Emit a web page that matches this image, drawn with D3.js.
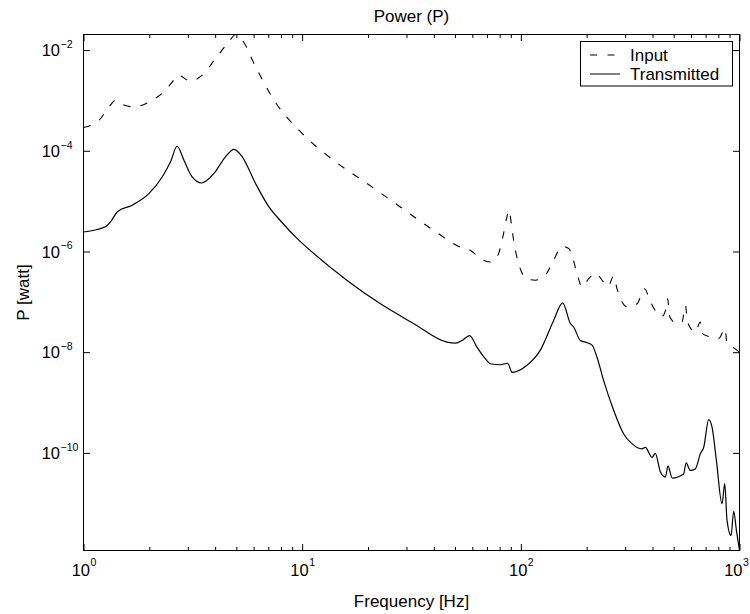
<!DOCTYPE html>
<html><head><meta charset="utf-8">
<script src="https://cdn.jsdelivr.net/npm/d3@7"></script>
<style>
body{margin:0;background:#fff}
text{font-family:"Liberation Sans",Arial,Helvetica,sans-serif;fill:#000}
</style>
</head><body>
<svg id="chart" width="750" height="614"></svg>
<script>
// ---- data ----
const titleText = "Power (P)";
const xLabelText = "Frequency [Hz]";
const yLabelText = "P [watt]";
const seriesNames = ["Input", "Transmitted"];

const inputFreq = [1.00,1.18,1.26,1.33,1.40,1.53,1.70,2.06,2.37,2.55,2.70,3.09,3.49,4.02,4.62,4.96,5.32,6.12,7.50,
  10.0,13.9,19.8,28.1,39.9,54.7,58.7,65.3,72.0,77.8,83.4,86.0,88.3,90.5,92.7,97.7,106.7,116.5,129.5,141.3,154.3,
  165.5,171.5,180.8,190.5,204.3,219.2,239.2,250,265.8,275.4,306,340,368,391,442,460,469,480,518,546,566,578,628,
  662,672,736,803,861,875,930,1000];
const inputPower = [2.90e-4,4.07e-4,5.89e-4,8.13e-4,1.01e-3,8.13e-4,7.46e-4,1.01e-3,1.60e-3,2.34e-3,3.18e-3,2.42e-3,
  3.18e-3,6.84e-3,1.46e-2,2.04e-2,1.58e-2,4.68e-3,9.55e-4,
  2.21e-4,6.50e-5,2.24e-5,7.67e-6,2.63e-6,1.15e-6,1.06e-6,7.24e-7,6.17e-7,7.76e-7,2.29e-6,4.47e-6,6.61e-6,3.55e-6,
  1.66e-6,5.75e-7,2.88e-7,2.69e-7,3.39e-7,6.76e-7,1.26e-6,
  1.15e-6,8.32e-7,3.63e-7,1.97e-7,2.88e-7,3.72e-7,2.45e-7,2.00e-7,3.24e-7,1.82e-7,7.94e-8,9.12e-8,1.82e-7,1.00e-7,
  5.13e-8,7.08e-8,1.15e-7,5.01e-8,3.72e-8,3.98e-8,8.51e-8,3.98e-8,2.51e-8,
  3.98e-8,2.40e-8,2.00e-8,1.86e-8,2.95e-8,1.48e-8,1.26e-8,1.00e-8];

const transFreq = [1.00,1.26,1.33,1.43,1.67,1.99,2.29,2.50,2.68,2.88,3.14,3.47,3.95,4.46,4.88,5.32,6.12,7.05,8.11,
  9.47,11.3,16.0,22.8,32.3,45.9,50.5,53.8,58.3,63.0,68.8,72.5,80.6,87.0,91.2,106.7,122.8,141.3,155.3,168.5,174.4,
  187.2,197,211.7,223,239,266,295,323,358,371,398,412,435,458,471,492,555,570,596,628,662,686,723,749,784,832,
  856,877,915,941,968,1000];
const transPower = [2.44e-6,3.09e-6,3.89e-6,6.17e-6,8.32e-6,1.41e-5,3.02e-5,6.03e-5,1.23e-4,6.46e-5,3.02e-5,2.29e-5,
  3.55e-5,7.59e-5,1.07e-4,7.59e-5,2.24e-5,7.67e-6,3.72e-6,
  1.82e-6,9.12e-7,2.69e-7,9.12e-8,3.72e-8,1.58e-8,1.51e-8,1.70e-8,2.14e-8,1.26e-8,7.41e-9,5.89e-9,5.62e-9,6.03e-9,
  3.98e-9,5.50e-9,1.10e-8,4.27e-8,9.55e-8,3.72e-8,3.16e-8,
  1.70e-8,1.58e-8,1.38e-8,7.94e-9,2.75e-9,6.92e-10,2.40e-10,1.51e-10,1.20e-10,1.29e-10,8.13e-11,9.77e-11,4.17e-11,
  3.31e-11,5.50e-11,3.16e-11,3.80e-11,6.31e-11,4.47e-11,4.79e-11,9.55e-11,1.29e-10,4.57e-10,3.24e-10,7.08e-11,9.77e-12,
  2.45e-11,4.57e-12,2.29e-12,6.92e-12,2.88e-12,1.15e-12];

const xMajorTicks = [1, 10, 100, 1000];
const yMajorTicks = [1e-2, 1e-4, 1e-6, 1e-8, 1e-10];

// ---- layout ----
const W = 750;
const L = 83.5, R = 739.5, T = 34.5, B = 550.5;
const svg = d3.select("#chart");

const x = d3.scaleLog().domain([1, 1000]).range([L, R]);
const allP = inputPower.concat(transPower);
const y = d3.scaleLog().domain(d3.extent(allP)).range([B, T]);

const xMinor = x.ticks().filter(v => !xMajorTicks.includes(v));

const expOf = v => Math.round(Math.log10(v));
const expStr = e => (e < 0 ? "\u2212" + (-e) : String(e));

// axes (ticks inward)
const gBottom = svg.append("g").attr("transform", `translate(0,${B})`);
gBottom.call(d3.axisBottom(x).tickValues(xMinor).tickSize(-3.5).tickFormat(""));
gBottom.call(g => g.append("g").call(d3.axisBottom(x).tickValues(xMajorTicks).tickSize(-6.5).tickFormat("")));
const gTop = svg.append("g").attr("transform", `translate(0,${T})`);
gTop.call(d3.axisTop(x).tickValues(xMinor).tickSize(-3.5).tickFormat(""));
gTop.call(g => g.append("g").call(d3.axisTop(x).tickValues(xMajorTicks).tickSize(-6.5).tickFormat("")));
const gLeft = svg.append("g").attr("transform", `translate(${L},0)`);
gLeft.call(d3.axisLeft(y).tickValues(yMajorTicks).tickSize(-6.5).tickFormat(""));
const gRight = svg.append("g").attr("transform", `translate(${R},0)`);
gRight.call(d3.axisRight(y).tickValues(yMajorTicks).tickSize(-6.5).tickFormat(""));
svg.selectAll(".domain").remove();
svg.selectAll(".tick line").attr("stroke", "#000").attr("stroke-width", 1);

// frame
svg.append("rect").attr("x", L).attr("y", T).attr("width", R - L).attr("height", B - T)
  .attr("fill", "none").attr("stroke", "#000").attr("stroke-width", 1);

// tick labels: 10^n
const xl = svg.append("g");
xMajorTicks.forEach(v => {
  const px = x(v);
  const ex = Math.min(px + 7, W - 7);
  const bx = Math.min(px + 6.5, ex - 0.5);
  xl.append("text").attr("x", bx).attr("y", B + 25.5).attr("text-anchor", "end")
    .style("font-size", "16.5px").text("10");
  xl.append("text").attr("x", ex).attr("y", B + 15.5).attr("text-anchor", "start")
    .style("font-size", "10.5px").text(expStr(expOf(v)));
});
const yl = svg.append("g");
yMajorTicks.forEach(v => {
  const py = y(v);
  yl.append("text").attr("x", 60).attr("y", py + 6.3).attr("text-anchor", "end")
    .style("font-size", "16.5px").text("10");
  yl.append("text").attr("x", 60.5).attr("y", py - 2).attr("text-anchor", "start")
    .style("font-size", "10.5px").text(expStr(expOf(v)));
});

// lines
const line = d3.line().x(d => x(d[0])).y(d => y(d[1])).curve(d3.curveMonotoneX);
const inputData = inputFreq.map((f, i) => [f, inputPower[i]]);
const transData = transFreq.map((f, i) => [f, transPower[i]]);
svg.append("clipPath").attr("id", "clip").append("rect")
  .attr("x", L).attr("y", T - 1).attr("width", R - L).attr("height", B - T + 2);
const plot = svg.append("g").attr("clip-path", "url(#clip)");
plot.append("path").attr("d", line(inputData)).attr("fill", "none").attr("stroke", "#000")
  .attr("stroke-width", 1.1).attr("stroke-dasharray", "7.5,10");
plot.append("path").attr("d", line(transData)).attr("fill", "none").attr("stroke", "#000")
  .attr("stroke-width", 1.2);

// title & axis labels
svg.append("text").attr("x", (L + R) / 2).attr("y", 21.5).attr("text-anchor", "middle")
  .style("font-size", "17px").text(titleText);
svg.append("text").attr("x", (L + R) / 2).attr("y", 606.5).attr("text-anchor", "middle")
  .style("font-size", "17px").text(xLabelText);
svg.append("text").attr("transform", `translate(29,${(T + B) / 2}) rotate(-90)`).attr("text-anchor", "middle")
  .style("font-size", "17px").text(yLabelText);

// legend
const lg = svg.append("g");
lg.append("rect").attr("x", 580.5).attr("y", 41.5).attr("width", 152).attr("height", 44.5)
  .attr("fill", "#fff").attr("stroke", "#000").attr("stroke-width", 1);
const legendRows = [
  {name: seriesNames[0], dash: "7,10.5", base: 60.5},
  {name: seriesNames[1], dash: null, base: 79.5}
];
legendRows.forEach(r => {
  const ln = lg.append("line").attr("x1", 590).attr("x2", 620).attr("y1", r.base - 5.5).attr("y2", r.base - 5.5)
    .attr("stroke", "#000").attr("stroke-width", 1);
  if (r.dash) ln.attr("stroke-dasharray", r.dash);
  lg.append("text").attr("x", 630).attr("y", r.base).style("font-size", "17px").text(r.name);
});
</script>
</body></html>
